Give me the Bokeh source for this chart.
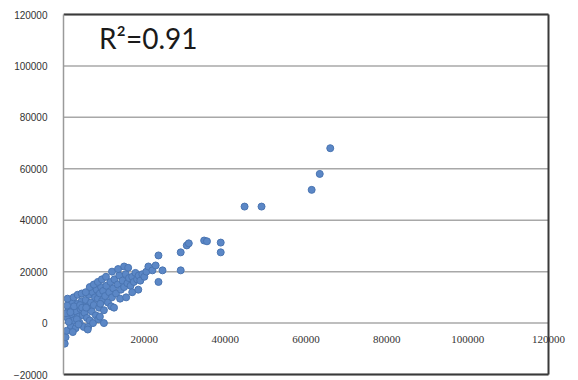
from bokeh.plotting import figure
from bokeh.models import ColumnDataSource, Range1d, FixedTicker, Label, BasicTickFormatter
from bokeh.embed import file_html
from bokeh.resources import INLINE

# observed vs predicted values
x_vals = [
    300, 500, 800, 1000, 1200, 1500, 1800, 2000, 2200, 2500, 2800, 3000, 3200, 3500, 3800,
    4000, 4200, 4500, 4800, 5000, 1300, 2600, 3300, 4100, 600, 900, 1700, 2300, 3700, 4600,
    1000, 2500, 3500, 4500,
    5200, 5500, 5800, 6000, 6300, 6500, 6800, 7000, 7200, 7500, 7800, 8000, 8200, 8500, 8800,
    9000, 9300, 9500, 9800, 10000, 6100, 7300, 8600, 5600, 9100,
    5500, 6500, 7500, 8500, 9500, 6000, 9000, 10000,
    10300, 10600, 11000, 11300, 11600, 12000, 12300, 12600, 13000, 13400, 13800, 14200, 14600,
    15000, 15400, 15800, 16200, 16600, 17000, 17400, 17800, 18200, 18600, 19000, 19500, 20000,
    20500, 21000, 11800, 14000,
    10500, 12000, 13500, 15000, 12500, 15500, 17000, 18500, 16000,
    22000, 22800, 23500, 23500, 24500, 29000, 29000, 30500, 31000, 34800, 35500, 38900, 38900,
    44800, 49000, 61400, 63400, 66000,
]
y_vals = [
    -8000, -5500, -3000, 2000, 5000, 7000, -1000, 3500, 8000, 1000, 6000, -2000, 4500, 7500, 2500,
    0, 5500, 8500, 3000, -1500, 500, 6500, 1500, 7000, 3800, 6800, 4200, -3500, -500, 6000,
    9500, 10000, 11000, 11500,
    4000, 9000, 2000, 6500, 11000, 1000, 8000, 4500, 12000, 7000, 10000, 3000, 13000, 9500, 6000,
    11500, 14000, 8500, 12500, 5000, -1500, 0, 1500, 6000, 7500,
    12000, 14000, 15000, 16000, 17000, -2500, 2500, 0,
    10500, 14500, 8000, 12000, 16000, 10000, 13500, 17000, 11500, 15000, 18500, 13000, 16500,
    14000, 19000, 15500, 17500, 14500, 18000, 16000, 19500, 17000, 18500, 16500, 19000, 18000,
    20000, 22000, 6500, 9500,
    18000, 20000, 21000, 22000, 6000, 10000, 12000, 13000, 21500,
    20500, 22400, 26300, 16000, 20500, 27500, 20500, 30200, 31000, 32100, 31800, 31300, 27500,
    45300, 45300, 51800, 58000, 68000,
]

x_ticks = [20000, 40000, 60000, 80000, 100000, 120000]
y_ticks = [-20000, 0, 20000, 40000, 60000, 80000, 100000, 120000]
r2_text = "R²=0.91"

X_MIN, X_MAX = 0, 120000
Y_MIN, Y_MAX = -20000, 120000

# plot box spans 0..120000 horizontally; the frame runs a little wider so the
# last x label has room, and a little taller so the box border is not clipped
frame_w, box_w = 515, 485
frame_h, box_h = 368, 360
x_end = X_MAX * frame_w / box_w
y_pad = (Y_MAX - Y_MIN) / box_h * (frame_h - box_h) / 2

p = figure(width=578, height=380, output_backend="svg", toolbar_location=None,
           x_range=Range1d(X_MIN, x_end),
           y_range=Range1d(Y_MIN - y_pad, Y_MAX + y_pad),
           min_border_left=63, min_border_right=0, min_border_top=10, min_border_bottom=2)
p.background_fill_color = "white"
p.border_fill_color = "white"
p.outline_line_color = None
p.xgrid.visible = False
p.ygrid.visible = False

# horizontal gridlines across the plot box
p.segment(x0=[X_MIN] * len(y_ticks), x1=[X_MAX] * len(y_ticks), y0=y_ticks, y1=y_ticks,
          line_color="#a8a8a8", line_width=1.5)

# dark box border on top, bottom and right
p.segment(x0=[X_MIN, X_MIN, X_MAX], x1=[X_MAX, X_MAX, X_MAX],
          y0=[Y_MAX, Y_MIN, Y_MIN], y1=[Y_MAX, Y_MIN, Y_MAX],
          line_color="#3a3a3a", line_width=2)

# x axis crosses at y=0: its tick labels sit just under that line
p.xaxis.visible = False
p.text(x=x_ticks, y=[0] * len(x_ticks), text=[str(t) for t in x_ticks],
       text_font="Liberation Sans", text_font_size="11px", text_color="#333333",
       text_align="center", text_baseline="middle", y_offset=16)

yax = p.yaxis[0]
yax.ticker = FixedTicker(ticks=y_ticks)
yax.formatter = BasicTickFormatter(use_scientific=False)
yax.bounds = (Y_MIN, Y_MAX)
yax.major_label_text_font = "Liberation Sans"
yax.major_label_text_font_size = "10px"
yax.major_label_text_color = "#333333"
yax.major_label_standoff = 10
yax.major_tick_line_color = None
yax.minor_tick_line_color = None
yax.axis_line_color = "#9a9a9a"
yax.axis_line_width = 1.5

src = ColumnDataSource(dict(x=x_vals, y=y_vals))
p.scatter("x", "y", source=src, size=7, marker="circle",
          fill_color="#5b87c6", line_color="#4a75b2", line_width=1)

p.add_layout(Label(x=8800, y=110700, text=r2_text, text_font="Lato",
                   text_font_size="28px", text_color="#1a1a1a",
                   text_baseline="alphabetic"))

open("out.html", "w").write(file_html(p, INLINE))
